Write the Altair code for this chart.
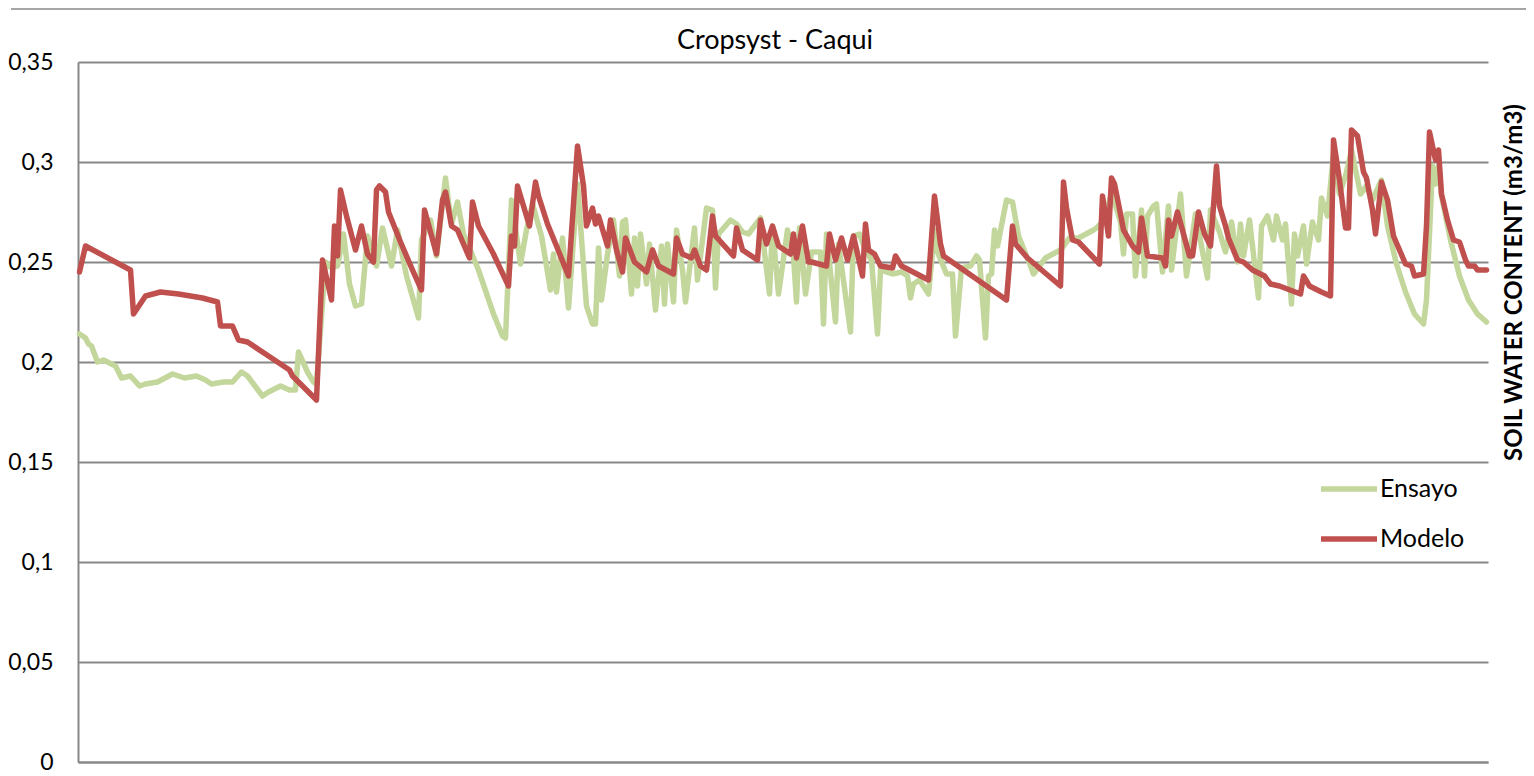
import altair as alt
import pandas as pd

# ---- data (day index, soil water content m3/m3) ----
ensayo_day = [
    0, 2, 3, 4, 6, 8, 12, 14, 17, 20,
    22, 26, 31, 33, 35, 39, 42, 44, 48, 51,
    54, 56, 61, 63, 67, 70, 72, 73, 76, 78,
    79, 82, 84, 86, 88, 90, 92, 94, 96, 99,
    101, 104, 106, 109, 113, 114, 117, 119, 122, 123,
    124, 126, 128, 133, 138, 141, 142, 144, 147, 149,
    151, 154, 157, 158, 159, 161, 163, 166, 169, 171,
    172, 173, 174, 176, 178, 180, 181, 182, 184, 185,
    186, 187, 189, 190, 192, 194, 195, 196, 198, 199,
    201, 202, 205, 206, 209, 211, 212, 213, 217, 219,
    221, 223, 227, 228, 230, 231, 233, 236, 238, 239,
    240, 242, 244, 247, 248, 249, 252, 253, 257, 258,
    260, 262, 264, 266, 267, 271, 274, 276, 277, 278,
    280, 283, 285, 286, 289, 291, 292, 294, 297, 299,
    300, 302, 303, 304, 305, 306, 309, 311, 313, 317,
    318, 322, 327, 330, 333, 338, 339, 342, 344, 347,
    348, 349, 351, 352, 354, 355, 356, 358, 359, 361,
    363, 364, 367, 369, 372, 376, 377, 380, 382, 384,
    386, 387, 388, 390, 393, 394, 396, 398, 399, 401,
    402, 404, 405, 406, 408, 409, 411, 413, 414, 416,
    418, 420, 422, 424, 427, 429, 431, 434, 436, 439,
    442, 445, 448, 449, 451, 452, 453, 454, 457, 460,
    463, 466, 469,
]
ensayo_val = [
    0.214, 0.212, 0.209, 0.208, 0.200, 0.201, 0.198, 0.192, 0.193, 0.188,
    0.189, 0.190, 0.194, 0.193, 0.192, 0.193, 0.191, 0.189, 0.190, 0.190,
    0.195, 0.193, 0.183, 0.185, 0.188, 0.186, 0.186, 0.205, 0.195, 0.190,
    0.189, 0.250, 0.247, 0.248, 0.264, 0.239, 0.228, 0.229, 0.263, 0.248,
    0.267, 0.248, 0.266, 0.243, 0.222, 0.261, 0.271, 0.253, 0.292, 0.280,
    0.269, 0.280, 0.264, 0.246, 0.224, 0.213, 0.212, 0.281, 0.249, 0.266,
    0.279, 0.263, 0.236, 0.254, 0.235, 0.262, 0.227, 0.289, 0.228, 0.219,
    0.219, 0.257, 0.231, 0.254, 0.271, 0.243, 0.270, 0.271, 0.234, 0.262,
    0.238, 0.264, 0.239, 0.259, 0.226, 0.258, 0.229, 0.259, 0.230, 0.266,
    0.246, 0.230, 0.267, 0.241, 0.277, 0.276, 0.237, 0.264, 0.271, 0.269,
    0.265, 0.264, 0.272, 0.259, 0.234, 0.268, 0.234, 0.266, 0.253, 0.230,
    0.267, 0.234, 0.255, 0.255, 0.219, 0.264, 0.220, 0.259, 0.215, 0.263,
    0.264, 0.256, 0.251, 0.214, 0.246, 0.244, 0.245, 0.243, 0.232, 0.239,
    0.241, 0.234, 0.266, 0.255, 0.244, 0.244, 0.213, 0.247, 0.248, 0.253,
    0.251, 0.212, 0.243, 0.244, 0.266, 0.258, 0.281, 0.280, 0.263, 0.248,
    0.244, 0.252, 0.256, 0.262, 0.262, 0.266, 0.267, 0.272, 0.285, 0.270,
    0.254, 0.274, 0.274, 0.243, 0.276, 0.243, 0.273, 0.278, 0.279, 0.245,
    0.278, 0.246, 0.284, 0.243, 0.274, 0.242, 0.276, 0.265, 0.255, 0.270,
    0.250, 0.269, 0.253, 0.271, 0.232, 0.268, 0.273, 0.261, 0.273, 0.261,
    0.269, 0.229, 0.264, 0.253, 0.268, 0.249, 0.270, 0.261, 0.282, 0.273,
    0.304, 0.284, 0.293, 0.306, 0.284, 0.288, 0.281, 0.291, 0.268, 0.249,
    0.235, 0.224, 0.219, 0.231, 0.298, 0.289, 0.298, 0.283, 0.261, 0.243,
    0.231, 0.224, 0.220,
]

modelo_day = [
    0, 2, 17, 18, 22, 27, 33, 41, 46, 47,
    51, 53, 56, 62, 70, 71, 79, 81, 84, 85,
    86, 87, 89, 92, 94, 96, 98, 99, 100, 102,
    103, 107, 111, 114, 115, 119, 121, 122, 124, 126,
    130, 131, 133, 138, 143, 144, 145, 146, 150, 152,
    153, 156, 159, 163, 166, 168, 169, 171, 172, 173,
    176, 177, 179, 181, 182, 185, 189, 191, 193, 198,
    199, 201, 204, 205, 207, 209, 211, 212, 218, 219,
    221, 226, 227, 229, 231, 233, 237, 238, 239, 241,
    243, 244, 249, 250, 252, 254, 256, 258, 261, 262,
    263, 265, 267, 271, 272, 274, 283, 285, 287, 288,
    309, 311, 312, 316, 327, 328, 329, 331, 333, 340,
    341, 343, 344, 345, 347, 348, 351, 353, 354, 356,
    361, 362, 363, 364, 366, 370, 371, 373, 375, 377,
    379, 380, 382, 383, 386, 388, 391, 395, 397, 400,
    407, 408, 410, 414, 417, 418, 420, 422, 423, 424,
    426, 428, 429, 431, 432, 434, 436, 438, 442, 444,
    445, 448, 449, 450, 452, 453, 454, 456, 458, 460,
    462, 463, 465, 466, 469,
]
modelo_val = [
    0.245, 0.258, 0.246, 0.224, 0.233, 0.235, 0.234, 0.232, 0.230, 0.218,
    0.218, 0.211, 0.210, 0.204, 0.196, 0.193, 0.181, 0.251, 0.231, 0.268,
    0.253, 0.286, 0.273, 0.256, 0.268, 0.254, 0.250, 0.286, 0.288, 0.285,
    0.275, 0.260, 0.246, 0.236, 0.276, 0.254, 0.281, 0.285, 0.268, 0.266,
    0.252, 0.280, 0.268, 0.254, 0.238, 0.263, 0.258, 0.288, 0.268, 0.290,
    0.283, 0.269, 0.258, 0.243, 0.308, 0.288, 0.268, 0.277, 0.269, 0.273,
    0.258, 0.271, 0.256, 0.245, 0.262, 0.250, 0.245, 0.256, 0.248, 0.244,
    0.262, 0.254, 0.252, 0.256, 0.248, 0.246, 0.273, 0.263, 0.253, 0.267,
    0.256, 0.251, 0.271, 0.259, 0.268, 0.258, 0.254, 0.264, 0.252, 0.268,
    0.250, 0.250, 0.248, 0.264, 0.251, 0.262, 0.251, 0.263, 0.243, 0.269,
    0.256, 0.254, 0.248, 0.247, 0.253, 0.248, 0.241, 0.283, 0.259, 0.253,
    0.231, 0.268, 0.259, 0.252, 0.238, 0.290, 0.277, 0.261, 0.260, 0.249,
    0.283, 0.263, 0.292, 0.289, 0.274, 0.266, 0.258, 0.255, 0.272, 0.253,
    0.252, 0.248, 0.271, 0.263, 0.275, 0.253, 0.253, 0.275, 0.264, 0.258,
    0.298, 0.278, 0.268, 0.262, 0.251, 0.250, 0.246, 0.243, 0.239, 0.238,
    0.234, 0.243, 0.238, 0.235, 0.233, 0.311, 0.291, 0.267, 0.267, 0.316,
    0.313, 0.295, 0.292, 0.276, 0.264, 0.290, 0.281, 0.263, 0.249, 0.248,
    0.243, 0.244, 0.268, 0.315, 0.301, 0.306, 0.284, 0.271, 0.261, 0.260,
    0.251, 0.248, 0.248, 0.246, 0.246,
]

series_names = ["Ensayo", "Modelo"]
series_colors = ["#c3d69b", "#c0504d"]
y_ticks = [0, 0.05, 0.1, 0.15, 0.2, 0.25, 0.3, 0.35]

assert len(ensayo_day) == len(ensayo_val)
assert len(modelo_day) == len(modelo_val)

df = pd.concat([
    pd.DataFrame({"day": ensayo_day, "value": ensayo_val, "serie": "Ensayo"}),
    pd.DataFrame({"day": modelo_day, "value": modelo_val, "serie": "Modelo"}),
], ignore_index=True)

FONT = "Lato"
GRID = "#878787"

lines = alt.Chart(df).mark_line(
    strokeWidth=5.5, strokeJoin="round", strokeCap="round"
).encode(
    x=alt.X("day:Q",
            scale=alt.Scale(domain=[-0.5, 469.5], nice=False, zero=False),
            axis=alt.Axis(labels=False, ticks=False, grid=False, title=None,
                          domainColor=GRID, domainWidth=2)),
    y=alt.Y("value:Q",
            scale=alt.Scale(domain=[0, 0.35], nice=False),
            axis=alt.Axis(values=y_ticks,
                          labelExpr="replace(format(datum.value, '.2~f'), '.', ',')",
                          grid=True, gridColor=GRID, gridWidth=2,
                          domainColor=GRID, domainWidth=2,
                          ticks=False, tickSize=0, labelPadding=25,
                          labelFont=FONT, labelFontSize=23, labelColor="black",
                          title="SOIL WATER CONTENT (m3/m3)",
                          titleAngle=270, titleX=1443, titleY=220,
                          titleAlign="center", titleBaseline="alphabetic",
                          titleFont=FONT, titleFontSize=24, titleFontWeight="bold",
                          titleColor="black")),
    color=alt.Color("serie:N",
                    scale=alt.Scale(domain=series_names, range=series_colors),
                    legend=alt.Legend(orient="none", legendX=1254, legendY=410,
                                      title=None, symbolType="M-2,0H2",
                                      symbolSize=784, symbolStrokeWidth=5.5,
                                      labelFont=FONT, labelFontSize=25,
                                      labelColor="black", labelOffset=14,
                                      rowPadding=20, padding=0)),
)

border = alt.Chart(pd.DataFrame({"k": [0]})).mark_rule(
    color="#a6a6a6", strokeWidth=2
).encode(x=alt.value(-67), x2=alt.value(1448), y=alt.value(-53))

chart = alt.layer(border, lines).properties(
    width=1410,
    height=700,
    padding={"left": 70, "top": 54, "right": 38, "bottom": 13},
    autosize=alt.AutoSizeParams(type="none"),
    title=alt.TitleParams("Cropsyst - Caqui", font=FONT, fontSize=27,
                          fontWeight="normal", color="black", anchor="middle",
                          baseline="alphabetic", offset=-68, dx=-8),
).configure_view(stroke="transparent")

chart.save("out.html", embed_options={"renderer": "svg", "actions": False})
